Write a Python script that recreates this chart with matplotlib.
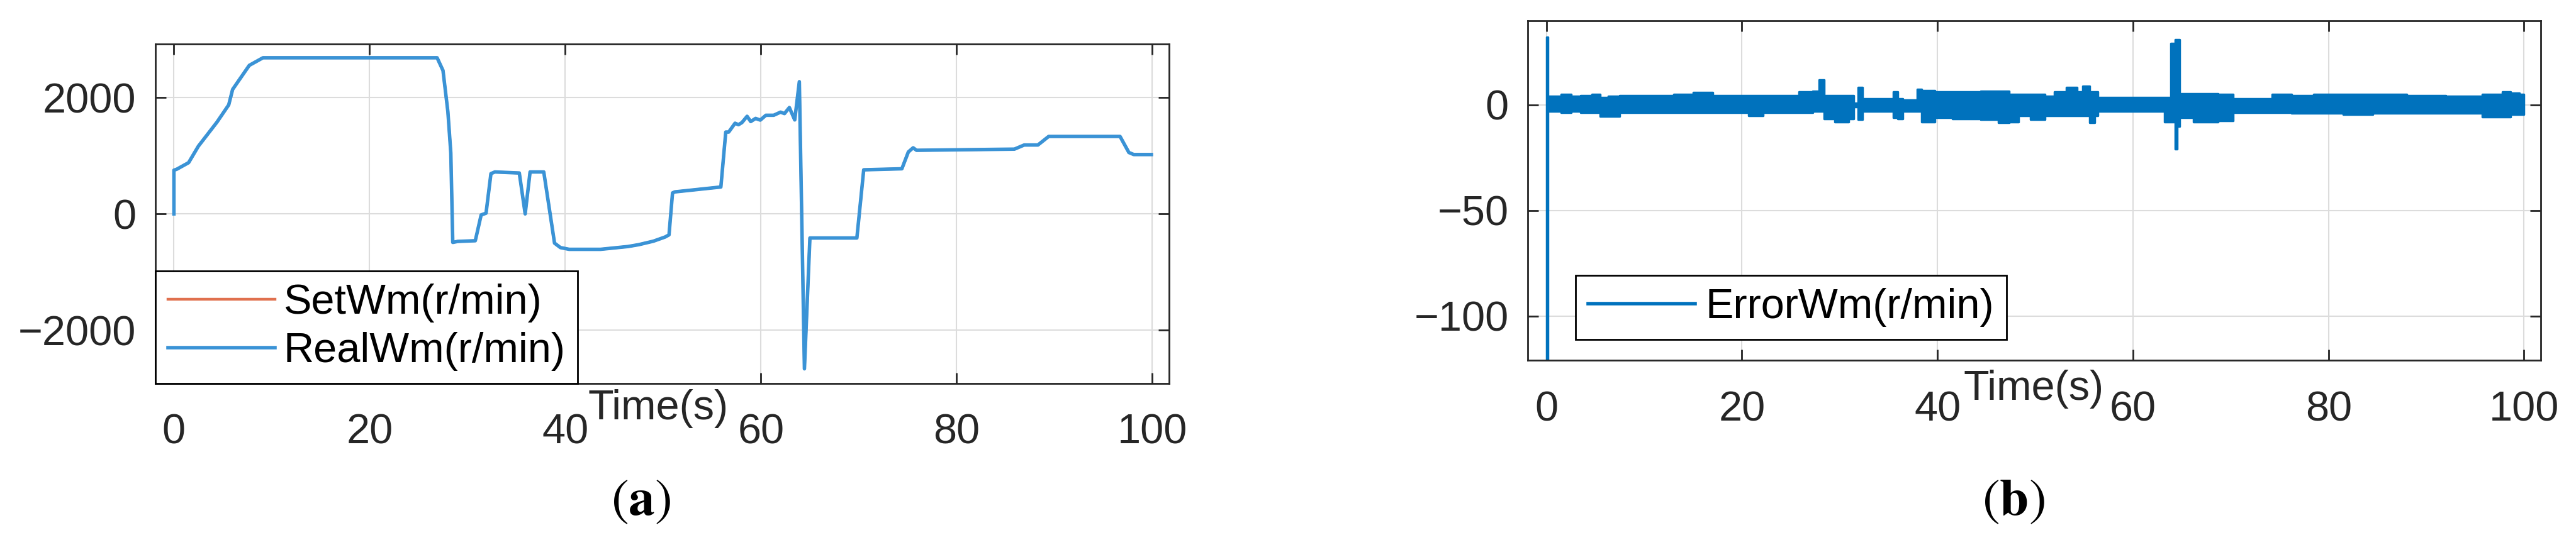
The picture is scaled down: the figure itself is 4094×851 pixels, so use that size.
import numpy as np
import matplotlib
matplotlib.use('Agg')
import matplotlib.pyplot as plt
from matplotlib.lines import Line2D

# ---------------- data ----------------
time_a = [0.0, 0.0, 0.3, 1.5, 2.5, 4.4, 5.6, 6.0, 7.7, 9.1, 26.9, 27.5, 28.0, 28.3,
          28.5, 29.0, 30.8, 31.4, 31.9, 32.4, 32.8, 35.3, 35.9, 36.4, 37.8, 38.9,
          39.5, 40.4, 43.6, 46.4, 47.5, 49.0, 50.2, 50.6, 50.96, 51.2, 55.9, 56.4,
          56.7, 57.35, 57.7, 58.05, 58.58, 58.95, 59.45, 59.93, 60.5, 61.3, 62.0,
          62.4, 62.9, 63.45, 63.92, 64.44, 65.0, 69.8, 70.5, 74.4, 75.06, 75.55,
          75.9, 85.9, 86.9, 88.3, 89.4, 96.7, 97.6, 98.1, 99.9]
real_wm = [0, 752, 770, 882, 1166, 1580, 1877, 2143, 2557, 2688, 2688, 2469, 1758, 1048,
           -491, -474, -462, -18, 12, 693, 722, 704, 0, 722, 722, -503,
           -580, -610, -610, -562, -530, -470, -398, -361, 361, 379, 463, 1409,
           1409, 1561, 1536, 1572, 1680, 1590, 1644, 1615, 1698, 1698, 1752,
           1727, 1831, 1618, 2276, -2667, -415, -415, 759, 777, 1066, 1138,
           1095, 1115, 1186, 1186, 1333, 1333, 1057, 1022, 1022]
set_wm = list(real_wm)  # fully hidden under RealWm in the picture

err_time = [0.0, 0.1, 0.2, 1.0, 2.0, 3.0, 4.0, 5.3, 5.7, 7.0, 8.0, 10.0, 12.0, 14.0,
            16.0, 18.0, 20.0, 21.3, 23.0, 25.0, 26.7, 27.8, 28.0, 28.3, 28.5, 30.5,
            31.3, 31.6, 32.1, 32.5, 35.3, 35.6, 36.3, 36.6, 37.8, 38.0, 38.7, 39.5,
            40.0, 43.0, 45.9, 46.5, 48.1, 48.5, 50.5, 51.5, 52.4, 54.0, 54.5, 55.2,
            55.9, 56.3, 56.5, 60.0, 63.1, 63.3, 63.8, 63.9, 64.2, 64.4, 64.6, 64.9,
            67.4, 70.0, 70.5, 73.0, 75.5, 77.0, 80.0, 83.0, 86.0, 90.0, 94.0, 97.4,
            98.2, 99.0, 100.0]
err_hi = [32, 32, 4, 4, 5, 4, 4.5, 5, 3.5, 4, 4.5, 4.5, 4.5, 5,
          6, 4.5, 4.5, 4.5, 4.5, 4.5, 6.3, 6.5, 12, 12, 4.5, 4.5,
          4.5, 1, 8.3, 3, 3, 6.3, 3, 2.5, 2.5, 7.3, 6.8, 6.8,
          6.3, 6.3, 6.5, 6.5, 5, 5, 5, 4, 6.3, 8.3, 6.3, 8.8,
          6.3, 6.3, 3.5, 3.5, 3.5, 3.5, 3.5, 29, 29, 31, 31, 5.4,
          5.4, 5, 3, 3, 5, 4.5, 5, 5, 5, 4.5, 4, 5,
          6.3, 5.5, 5]
err_lo = [-700, -700, -3, -3, -3.5, -3, -3.5, -3.5, -5.5, -5.5, -3.5, -3.5, -3.5, -3.5,
          -3.5, -3.5, -3.5, -5, -3.5, -3.5, -3.5, -3, -3, -3, -6.5, -8,
          -6.5, -1, -7, -3, -3, -6, -6.5, -3, -3, -3, -8, -8,
          -6, -6.5, -7, -8.5, -8, -5, -7, -5, -5, -5, -5, -5,
          -8.5, -5, -3, -3, -3, -8.2, -8.2, -8, -8, -21, -10, -6,
          -8, -7.5, -3.5, -3.5, -3.5, -4, -4, -4.5, -4, -4, -4, -5.6,
          -5.6, -4.5, -4.5]

xticks = [0, 20, 40, 60, 80, 100]
yticks_a = [-2000, 0, 2000]
yticks_b = [-100, -50, 0]

# ---------------- style ----------------
plt.rcParams['font.family'] = ['Liberation Sans', 'DejaVu Sans']
plt.rcParams['mathtext.fontset'] = 'stix'

FS = 48
AX_COL = '#262626'
GRID_COL = '#dcdcdc'
C_REAL = '#3a93d6'
C_SET = '#e0704e'
C_ERR = '#0072BD'
LW = 4.0

fig = plt.figure(figsize=(40.94, 8.51), dpi=100)
axa = fig.add_axes([0.0603, 0.2832, 0.3935, 0.634])
axb = fig.add_axes([0.5931, 0.3261, 0.3932, 0.6357])


def style(ax):
    for s in ax.spines.values():
        s.set_linewidth(2.0)
        s.set_color(AX_COL)
    ax.tick_params(direction='in', length=12, width=2, top=True, right=True,
                   labelsize=FS, colors=AX_COL)
    ax.tick_params(axis='x', pad=34.5)
    ax.tick_params(axis='y', pad=22)
    ax.grid(True, color=GRID_COL, linewidth=1.5)
    ax.set_axisbelow(True)
    ax.set_xticks(xticks)
    ax.set_xlim(-1.9, 101.7)


# ---- panel (a) ----
style(axa)
axa.plot(time_a, set_wm, color=C_SET, lw=LW * 0.8, label='SetWm(r/min)')
axa.plot(time_a, real_wm, color=C_REAL, lw=LW, label='RealWm(r/min)')
axa.set_ylim(-2920, 2920)
axa.set_yticks(yticks_a)
axa.set_xlabel('Time(s)', fontsize=FS, color=AX_COL)
axa.xaxis.set_label_coords(0.496, -0.0167)
axa.xaxis.label.set_va('top')
leg = axa.legend(loc='lower left', bbox_to_anchor=(0, 0), borderaxespad=0,
                 fontsize=FS, frameon=True, fancybox=False, edgecolor='black',
                 framealpha=1, borderpad=0.3, handlelength=2.55,
                 handletextpad=0.2, labelspacing=0.22)
leg.get_frame().set_linewidth(2)

# ---- panel (b) ----
style(axb)
axb.fill_between(err_time, err_lo, err_hi, step='mid', color=C_ERR,
                 edgecolor=C_ERR, linewidth=2.5)
axb.set_ylim(-121, 40)
axb.set_yticks(yticks_b)
axb.set_xlabel('Time(s)', fontsize=FS, color=AX_COL)
axb.xaxis.set_label_coords(0.4994, -0.027)
axb.xaxis.label.set_va('top')
handle = Line2D([], [], color=C_ERR, lw=LW)
legb = axb.legend([handle], ['ErrorWm(r/min)'], loc='lower left',
                  bbox_to_anchor=(0.0472, 0.062), borderaxespad=0,
                  fontsize=FS, frameon=True, fancybox=False, edgecolor='black',
                  framealpha=1, borderpad=0.3, handlelength=2.55,
                  handletextpad=0.25)
legb.get_frame().set_linewidth(2)

# ---- captions ----
fig.text(0.2487, 0.0635, r'$(\mathbf{a})$', fontsize=60, ha='center', va='center')
fig.text(0.7816, 0.0625, r'$(\mathbf{b})$', fontsize=60, ha='center', va='center')

fig.savefig('out.png', dpi=100, facecolor='white')
